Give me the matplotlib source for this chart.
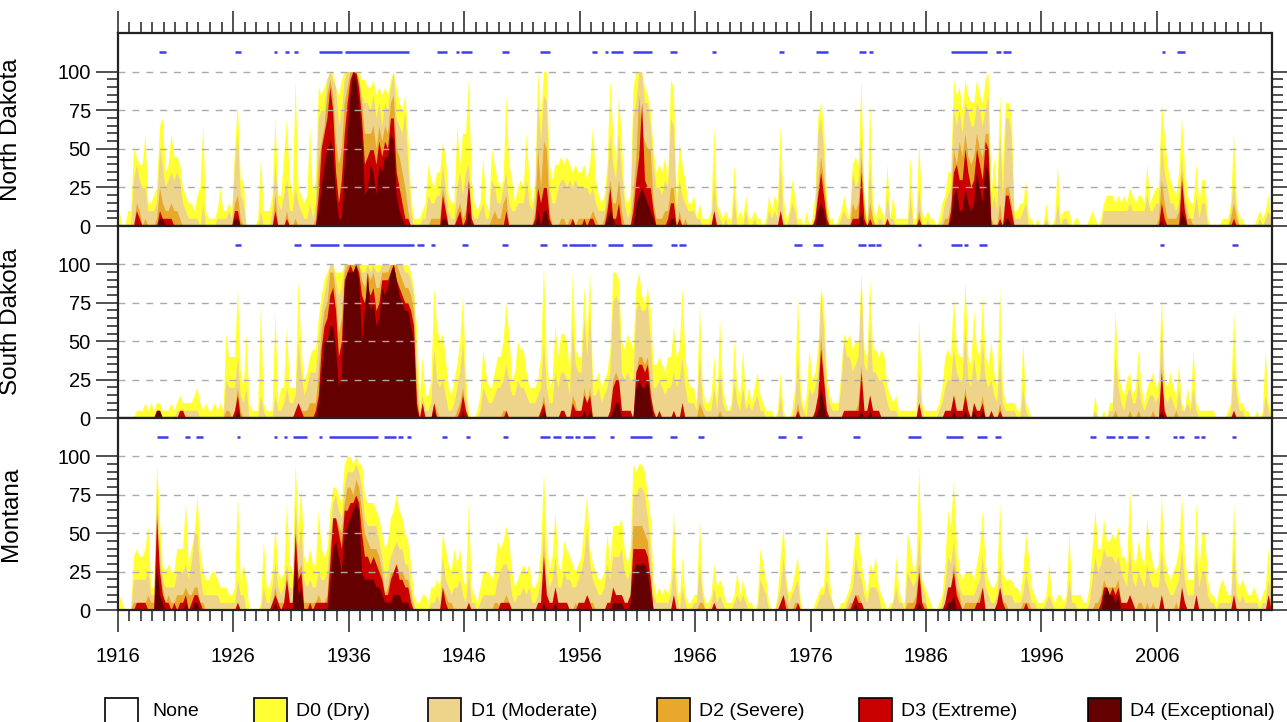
import numpy as np
import matplotlib
matplotlib.use("Agg")
import matplotlib.pyplot as plt
from matplotlib.patches import Rectangle
from matplotlib.ticker import FixedLocator, MultipleLocator

plt.rcParams['font.family'] = ['Liberation Sans', 'DejaVu Sans']

# Percent of state area in drought, quarterly, 1916-2015 (one group of 4 quarters per year).
# Each character is a level in steps of 5 %: '0'..'9' -> 0..45, 'a'..'k' -> 50..100.
# Layers are cumulative: D0 = D0 or worse, D1 = D1 or worse, ...
LEVELS = '0123456789abcdefghijk'
FIRST_YEAR = 1916
N_YEARS = 100
ZERO10 = "0000 0000 0000 0000 0000 0000 0000 0000 0000 0000 "

ND_D0 = ("2002 2a98 8c33 45de 78c9 9854 3324 5d21 1125 2232 "
         "ag66 0000 1922 24e4 49e6 4j54 34d4 6ihi jkki hjkk "
         "kkkk jjii jhih ihjk igfh c411 1238 6577 b943 3d8c "
         "cj63 2393 2a86 56h8 6356 5c63 6kek k868 8989 8787 "
         "7868 d643 48jc 8hb4 34ik kkih fa78 796j i4b8 6334 "
         "1311 12d3 2121 1812 1411 2110 1424 3d41 2641 1020 "
         "14eg d411 0124 2189 8j41 g313 2181 4111 1191 1b21 "
         "2110 1347 7jhi fjhg gjhg jk49 4h8g gf22 3361 1010 "
         "0300 1812 2201 1000 1210 1344 4343 4354 3443 8345 "
         "5gc8 6547 e843 3836 6100 0011 13c3 1100 0012 1241")
ND_D1 = ("0000 0686 5522 23a8 5676 7632 1111 0300 0011 1121 "
         "8c43 0000 0200 0283 2462 2532 1131 3eff jkji dfjk "
         "kkkj hggf hegd gfik edcf 8200 0114 3344 8521 1574 "
         "7821 1231 1653 3573 2233 3632 4gbh g533 5665 6565 "
         "5554 5322 26c8 6c73 12eg kkgg d855 465e d264 3222 "
         "1100 0162 1010 0400 0200 1000 0212 1810 1320 0000 "
         "02ce a200 0012 1175 6c20 8101 1041 1000 0040 0500 "
         "1000 0134 5fdf cgfd dgfd fh24 2c4e ec11 1230 0000 "
         "0100 0301 1000 0000 0000 0222 2222 2232 2222 4223 "
         "3b75 3323 9421 1413 3000 0000 0262 0000 0001 0121")
ND_D2 = ("0000 0032 0100 0153 2232 2100 0000 0000 0000 0000 "
         "3410 0000 0000 0040 0020 0100 0000 18bd hjhb 8agi "
         "kkkj gccc dadb dcgh a975 2000 0000 1111 5300 0231 "
         "2510 0000 0121 1340 0000 0000 2a5b a200 0110 1101 "
         "1111 2100 1363 3620 0049 hcba a311 1225 5020 1000 "
         "0000 0020 0000 0000 0000 0000 0000 0200 0000 0000 "
         "0159 6200 0000 0032 3930 3100 0010 0000 0000 0200 "
         "0000 0011 3a8b 9c98 9ca9 cc10 0305 5300 0000 0000 "
         + ZERO10 +
         "1631 1112 7311 0000 0000 0000 0131 0000 0000 0000")
ND_D3 = ("0000 0021 0000 0021 1110 0000 0000 0000 0000 0000 "
         "2200 0000 0000 0020 0010 0000 0000 04ac eif7 36cg "
         "jkki e89a a8b9 baee 7531 1000 0000 0000 4200 0120 "
         "1610 0000 0000 0020 0000 0000 1535 5100 0000 0100 "
         "0101 1000 0251 1300 0026 9g65 5200 0013 3010 0000 "
         "0000 0020 0000 0000 0000 0000 0000 0200 0000 0000 "
         "0147 4100 0000 0011 1710 1000 0010 0000 0000 0100 "
         "0000 0000 2786 6a75 6a86 ba00 0104 4200 0000 0000 "
         + ZERO10 +
         "0310 0000 6200 0000 0000 0000 0010 0000 0000 0000")
ND_D4 = ("0000 0000 0000 0011 0000 0000 0000 0000 0000 0000 "
         "1100 0000 0000 0000 0000 0000 0000 0258 aba4 118c "
         "hkjg c458 7487 99cb 4210 0000 0000 0000 1100 0000 "
         "0200 0000 0000 0000 0000 0000 0202 2000 0000 0000 "
         "0000 0000 0121 0000 0003 4543 2100 0001 1000 0000 "
         + ZERO10 +
         "0023 2000 0000 0000 0200 0000 0000 0000 0000 0000 "
         "0000 0000 1452 2532 3753 8700 0001 1000 0000 0000 "
         + ZERO10 +
         "0100 0000 2100 0000 0000 0000 0000 0000 0000 0000")

SD_D0 = ("0000 0011 1212 1221 1121 2322 2234 2121 1212 1b88 "
         "8h64 b211 1f21 11e2 44c4 44i9 5689 9dgi jkkj jjkk "
         "kkkk kkkk kkkk kkkk kkkk kjhc 3833 5hca b843 57ag "
         "6100 1396 4468 8afb 56a9 9644 458k 845c 8bba 6j98 "
         "8hbj 5564 569j jia9 ba9h jgfh e778 7688 c89h 8544 "
         "2f42 2382 d421 2a43 9242 4632 1110 1610 014g 4139 "
         "569h f632 226b ab9a aj98 i998 9843 2311 1111 1d21 "
         "1111 2489 8g98 8i87 e98g 87a6 4h42 2221 1a21 0000 "
         "0000 0000 0000 0000 0030 0102 2e64 3563 4942 4564 "
         "5g54 6437 2142 9211 1111 0000 12e5 2211 0010 1921")
SD_D1 = ("0000 0000 0000 0110 0000 1111 1111 0000 0000 0544 "
         "4832 4000 0310 0031 1242 23a6 3466 6aeg ikki ghkk "
         "kkkk jjkj kjjk kkkk kkkj jig8 1311 2954 5311 246a "
         "3000 0143 2234 4575 3354 4322 234a 4226 4665 3c76 "
         "6d8e 3342 346f gf65 655e feef a445 4344 6458 4222 "
         "1821 1141 6211 1521 4121 2311 0000 0300 0028 2104 "
         "346g c421 114a 8867 8h76 c665 5421 1100 0000 0610 "
         "0000 1245 5965 5c54 855a 5453 2821 1110 0410 0000 "
         "0000 0000 0000 0000 0010 0001 1842 1342 2521 2332 "
         "3c32 3214 1121 4100 0000 0000 0173 1100 0000 0310")
SD_D2 = ("0000 0000 0000 0110 0000 0110 0000 0000 0000 0110 "
         "1410 0000 0000 0000 0000 0121 1122 26be fjjg bdjk "
         "kkkk ihji jhhj jjkk kjih hge4 0200 0210 0000 0124 "
         "1000 0000 0000 0110 0000 0000 0013 0000 0110 0320 "
         "1424 0000 0015 6510 1006 8878 4001 0000 1002 0000 "
         "0210 0000 1000 0000 0000 0000 0000 0000 0002 0000 "
         "013b 6100 0001 1111 2711 3111 0000 0000 0000 0200 "
         "0000 0011 1311 1410 2113 0010 0200 0000 0000 0000 "
         "0000 0000 0000 0000 0000 0000 0100 0010 0100 0010 "
         "0700 0010 0000 0000 0000 0000 0010 0000 0000 0000")
SD_D3 = ("0000 0000 0000 0110 0000 0110 0000 0000 0000 0000 "
         "1300 0000 0000 0000 0000 0121 0000 139c dghe 8aij "
         "kjkj gfhg hefi iijk ihgf fec2 0200 0200 0000 0013 "
         "1000 0000 0000 0010 0000 0000 0012 0000 0110 0211 "
         "1323 0000 0014 5511 1106 7767 3101 0000 1002 0000 "
         "0000 0000 0000 0000 0000 0000 0000 0000 0001 0000 "
         "0139 5100 0001 1111 1611 3111 0000 0000 0000 0200 "
         "0000 0011 1311 1310 2112 0010 0100 0000 0000 0000 "
         + ZERO10 +
         "0610 0000 0000 0000 0000 0000 0010 0000 0000 0000")
SD_D4 = ("0000 0000 0000 0110 0000 0000 0000 0000 0000 0000 "
         "0100 0000 0000 0000 0000 0000 0000 026a acc9 46hj "
         "jjki aeje fcdh ghjk igfe eca1 0000 0100 0000 0001 "
         "0000 0000 0000 0000 0000 0000 0001 0000 0000 0000 "
         "0101 0000 0001 2200 0004 5445 2000 0000 0000 0000 "
         + ZERO10 +
         "0014 2000 0000 0000 0100 1000 0000 0000 0000 0000 "
         "0000 0000 0100 0100 1001 0000 0000 0000 0000 0000 "
         + ZERO10 +
         "0100 0000 0000 0000 0000 0000 0000 0000 0000 0000")

MT_D0 = ("2100 0787 78b3 3jc6 5655 888e 68af 8544 5543 3322 "
         "3f46 4000 0193 35b5 45e6 5jbg 7686 6d87 8dgg fejk "
         "kjkj jfee edca 89cd fdca 9621 1221 3343 a865 8684 "
         "3e32 1355 5459 89b9 5345 6563 348i 957d 6598 7656 "
         "7bf8 6544 5a6b bbc8 68ji jjif c423 2324 d417 2112 "
         "2c31 1263 4311 1252 4211 0186 4100 27b4 2357 1000 "
         "0123 3b41 0011 236a a642 6573 2101 1731 1a85 6j43 "
         "2100 126d bh95 4555 468d 6433 4e54 4433 25a7 3211 "
         "1262 1221 2a22 2211 38d8 8c99 a9b7 76g7 6976 c865 "
         "6f75 4568 f744 4e5a a422 1343 22e4 3432 2321 2383")
MT_D1 = ("0000 0444 4452 2g84 3333 5556 46aa 5222 2221 1111 "
         "1422 0000 0031 1363 2363 3e8b 4343 3544 5aef dcgi "
         "iiji gcbb bb97 4578 9886 6310 0000 1121 7432 3342 "
         "1511 0122 2224 5665 2122 3231 124b 5347 3354 4334 "
         "57b6 4322 3647 7785 45ff ggfc 8211 1112 6203 1001 "
         "1620 0131 2100 0121 2100 0043 2000 1373 1234 0000 "
         "0012 2421 0000 1237 5421 3332 0000 1311 0543 4a32 "
         "0000 0137 6953 2222 2347 3211 2622 2211 1253 1100 "
         "0121 0000 1411 0000 1475 6877 7675 4384 3543 6433 "
         "3843 2234 8422 2735 5211 0111 1182 1211 1110 1142")
MT_D2 = ("0000 0111 1121 1d63 1211 2223 2233 1100 0000 0000 "
         "0100 0000 0000 0131 1151 1b56 1111 1211 28cc baeg "
         "gfhg da98 8875 2355 6554 4200 0000 0000 3211 0000 "
         "0100 0000 0011 0121 0000 0000 0018 2113 0110 0010 "
         "1121 1000 0112 2221 12bb bba9 4000 0000 2000 0000 "
         "0110 0010 0000 0000 0000 0000 0000 0121 0011 0000 "
         "0000 0000 0000 0112 2100 0000 0000 0000 0111 2611 "
         "0000 0013 3632 0111 1123 0000 1311 0000 0111 0000 "
         "0000 0000 0000 0000 0011 2433 3341 0121 0110 1010 "
         "0200 0010 2100 0200 0000 0000 0020 0000 0000 0021")
MT_D3 = ("0000 0011 1100 0c52 1101 0112 0122 1000 0000 0000 "
         "0100 0000 0000 0121 0141 1a45 0010 1111 16cc a8dd "
         "eefe a776 7654 2245 6443 3100 0000 0000 3100 0000 "
         "0100 0000 0000 1111 0000 0000 0117 2113 1111 0001 "
         "1121 0000 0113 2221 1288 8887 4000 0000 2000 0000 "
         "0000 0010 0000 0000 0000 0000 0000 0120 0001 0000 "
         "0000 0000 0000 0012 1100 0000 0000 0000 0000 1510 "
         "0000 0013 3521 0000 0113 0000 1310 0000 0010 0000 "
         "0000 0000 0000 0000 0000 1332 3231 1121 0000 0000 "
         "0200 0000 3100 0200 0000 0000 0020 0000 0000 0020")
MT_D4 = ("0000 0000 0000 0621 0000 0001 0011 0000 0000 0000 "
         "0000 0000 0000 0010 0000 0723 0000 0000 0389 75ab "
         "cded 5444 4332 1112 2211 1000 0000 0000 0000 0000 "
         "0000 0000 0000 0000 0000 0000 0001 0001 0000 0000 "
         "0000 0000 0001 1110 0156 6665 2000 0000 0000 0000 "
         + ZERO10 +
         "0000 0000 0000 0001 0000 0000 0000 0000 0000 0100 "
         "0000 0001 1200 0000 0000 0000 0000 0000 0000 0000 "
         "0000 0000 0000 0000 0000 0232 2120 0000 0000 0000 "
         + ZERO10.strip())

# months flagged by the blue marks above each panel (start, end in decimal years)
ND_SPELLS = [(1919.6, 1920.2), (1926.2, 1926.7), (1929.5, 1929.8), (1930.5, 1930.8),
             (1931.3, 1931.6), (1933.4, 1935.4), (1935.7, 1941.2), (1943.7, 1944.5),
             (1945.3, 1945.6), (1945.7, 1946.7), (1949.3, 1949.9), (1952.6, 1953.4),
             (1957.1, 1957.5), (1958.2, 1958.5), (1958.7, 1959.8), (1960.6, 1962.3),
             (1963.8, 1964.4), (1967.5, 1967.8), (1973.3, 1973.7), (1976.5, 1977.5),
             (1980.2, 1980.8), (1981.1, 1981.4), (1988.2, 1991.3), (1992.1, 1992.5),
             (1992.7, 1993.4), (2006.4, 2006.7), (2007.7, 2008.4)]
SD_SPELLS = [(1926.2, 1926.7), (1931.3, 1931.9), (1932.7, 1935.2), (1935.5, 1941.7),
             (1941.9, 1942.5), (1943.1, 1943.5), (1945.8, 1946.3), (1949.3, 1949.8),
             (1952.6, 1953.2), (1954.5, 1954.9), (1955.1, 1956.9), (1957.0, 1957.4),
             (1958.5, 1959.8), (1960.5, 1962.3), (1963.9, 1964.4), (1964.6, 1965.2),
             (1974.6, 1975.3), (1976.2, 1977.1), (1980.1, 1980.8), (1981.0, 1981.6),
             (1981.7, 1982.1), (1985.3, 1985.6), (1988.2, 1989.1), (1989.3, 1989.6),
             (1990.6, 1991.3), (2006.3, 2006.6), (2012.5, 2013.0)]
MT_SPELLS = [(1919.4, 1920.4), (1921.8, 1922.3), (1922.75, 1923.4), (1926.35, 1926.6),
             (1929.5, 1929.8), (1930.4, 1930.7), (1931.2, 1932.4), (1933.45, 1933.7),
             (1934.3, 1938.55), (1939.1, 1940.1), (1940.3, 1940.7), (1941.1, 1941.4),
             (1944.1, 1944.5), (1946.2, 1946.5), (1949.4, 1949.8), (1952.6, 1953.4),
             (1953.7, 1954.4), (1954.7, 1955.4), (1955.6, 1956.0), (1956.3, 1957.3),
             (1958.6, 1959.0), (1960.4, 1962.3), (1963.8, 1964.4), (1966.3, 1966.8),
             (1973.2, 1973.9), (1974.8, 1975.3), (1979.7, 1980.3), (1984.4, 1985.6),
             (1987.7, 1989.2), (1990.4, 1991.3), (1992.0, 1992.5), (2000.2, 2000.7),
             (2001.6, 2002.4), (2002.6, 2003.1), (2003.4, 2004.4), (2005.0, 2005.3),
             (2007.4, 2007.7), (2007.9, 2008.3), (2009.2, 2009.6), (2009.8, 2010.2),
             (2012.5, 2012.8)]

STATES = ["North Dakota", "South Dakota", "Montana"]
CATEGORIES = ["None", "D0 (Dry)", "D1 (Moderate)", "D2 (Severe)", "D3 (Extreme)", "D4 (Exceptional)"]
COLORS = ["#ffffff", "#ffff33", "#eed48a", "#e8a82c", "#c80000", "#640000"]
DECADES = list(range(1916, 2016, 10))


def decode(s):
    groups = s.split()
    vals = [LEVELS.index(c) * 5.0 for g in groups for c in g]
    n = N_YEARS * 4
    vals = (vals + [0.0] * n)[:n]
    return np.array(vals)


layers = {
    "North Dakota": [ND_D0, ND_D1, ND_D2, ND_D3, ND_D4],
    "South Dakota": [SD_D0, SD_D1, SD_D2, SD_D3, SD_D4],
    "Montana": [MT_D0, MT_D1, MT_D2, MT_D3, MT_D4],
}
spells = {"North Dakota": ND_SPELLS, "South Dakota": SD_SPELLS, "Montana": MT_SPELLS}

t = FIRST_YEAR + (np.arange(N_YEARS * 4) + 0.5) / 4.0

W, H = 1287, 722
fig = plt.figure(figsize=(W / 100, H / 100), dpi=100)

left, right = 117.6 / W, 1271.5 / W
tops = [33, 226, 418]
bots = [226, 418, 610]

for i, st in enumerate(STATES):
    ax = fig.add_axes([left, 1 - bots[i] / H, right - left, (bots[i] - tops[i]) / H])
    for s, c in zip(layers[st], COLORS[1:]):
        ax.fill_between(t, 0, decode(s), color=c, lw=0)
    sp = spells[st]
    ax.hlines([112.5] * len(sp), [a for a, b in sp], [b for a, b in sp],
              color="#3d3df0", lw=1.8)

    ax.set_xlim(1916, 2016 - 1 / 12)
    ax.set_ylim(0, 125)
    ax.set_yticks([0, 25, 50, 75, 100])
    ax.yaxis.set_minor_locator(FixedLocator(np.arange(0, 101, 5)))
    ax.yaxis.grid(True, which="major", ls=(0, (5, 5)), color="#aaaaaa", lw=1.0)
    ax.tick_params(axis="y", which="both", left=True, right=True, direction="out",
                   labelsize=14.5, pad=3.5, width=1.1, color="#222222")
    ax.tick_params(axis="y", which="major", length=15.8)
    ax.tick_params(axis="y", which="minor", length=7.9)

    ax.xaxis.set_major_locator(FixedLocator(DECADES))
    ax.xaxis.set_minor_locator(MultipleLocator(1))
    top = i == 0
    bottom = i == len(STATES) - 1
    ax.tick_params(axis="x", which="both", top=top, bottom=bottom, labeltop=False,
                   labelbottom=bottom, direction="out", labelsize=14.5, pad=11,
                   width=1.1, color="#222222")
    ax.tick_params(axis="x", which="major", length=15.8)
    ax.tick_params(axis="x", which="minor", length=7.9)
    if bottom:
        ax.set_xticklabels([str(d) for d in DECADES])

    for spn in ax.spines.values():
        spn.set_linewidth(1.6)
        spn.set_color("#222222")

    ax.set_ylabel(st, fontsize=17.5)
    ax.yaxis.set_label_coords(-0.083, 0.5)

# legend row
box_x = [105, 254, 428, 657, 859, 1088]
text_x = [152, 296, 471, 699, 901, 1130]
for bx, tx, lab, c in zip(box_x, text_x, CATEGORIES, COLORS):
    fig.patches.append(Rectangle((bx / W, 1 - 731 / H), 33 / W, 33 / H,
                                 transform=fig.transFigure, fc=c, ec="black", lw=1.2))
    fig.text(tx / W, 1 - 711 / H, lab, fontsize=14, va="center", ha="left")

fig.savefig("out.png", dpi=100)
